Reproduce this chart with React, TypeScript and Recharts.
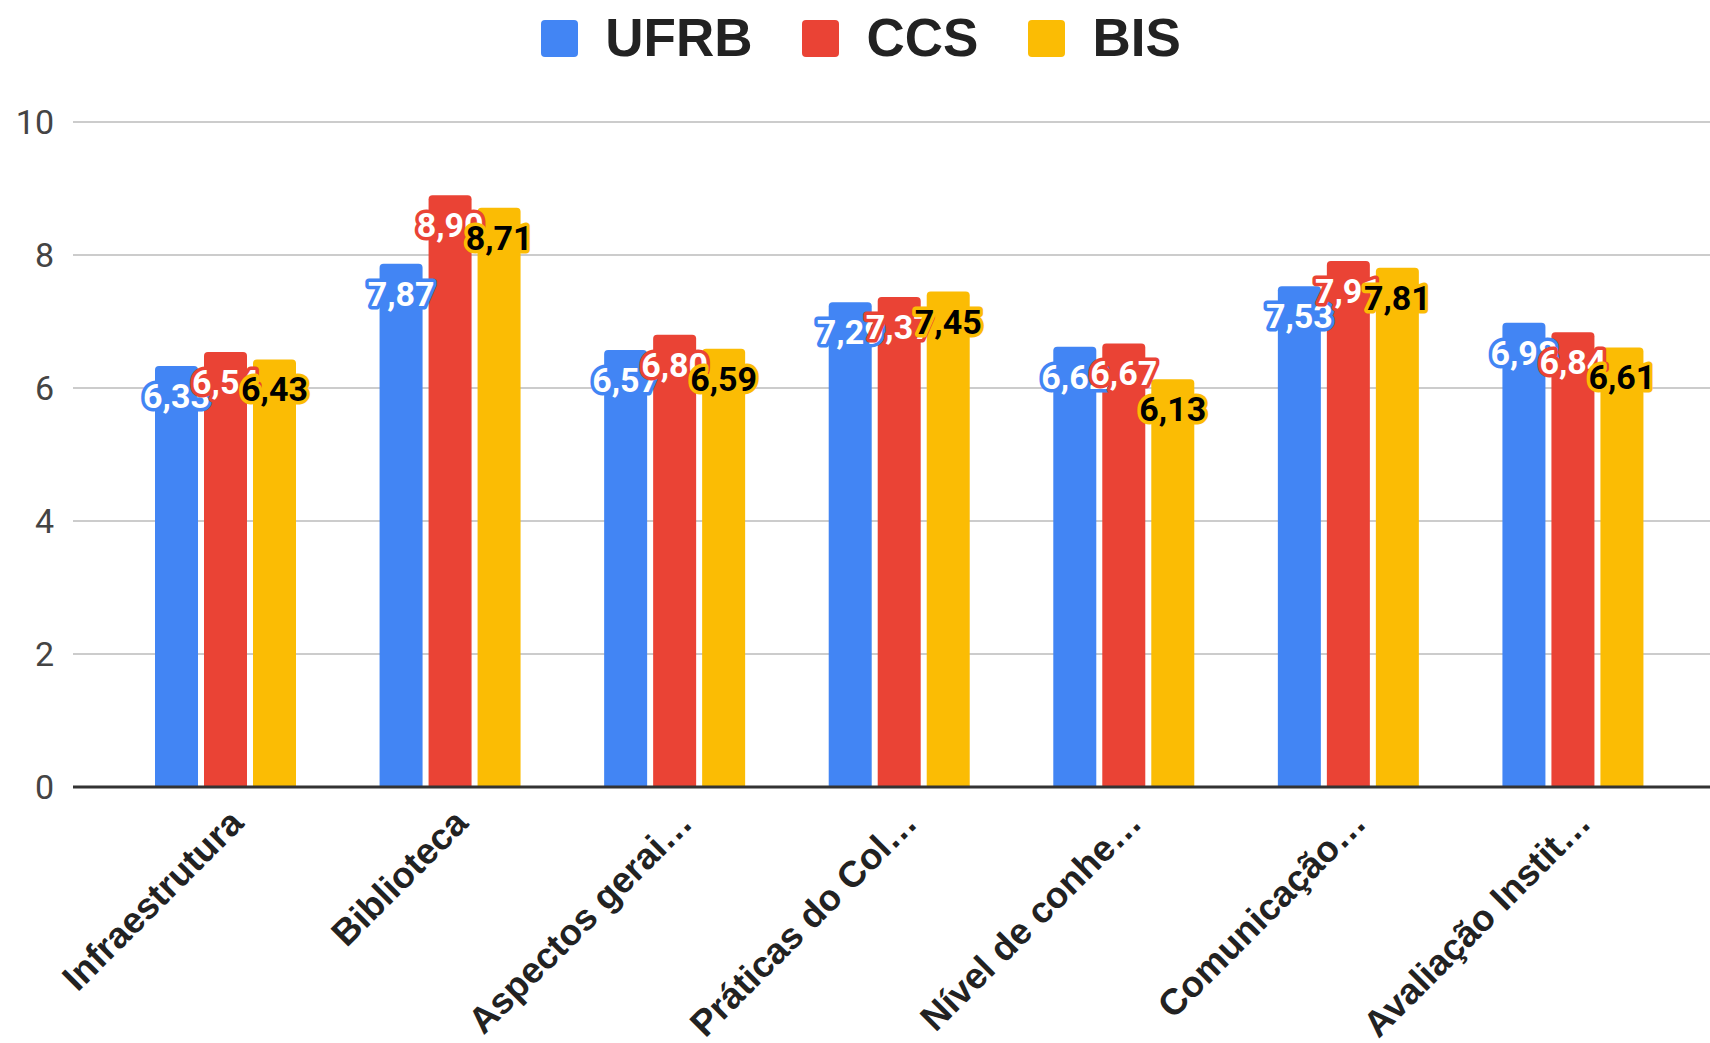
import React from 'react';
import { BarChart, Bar, XAxis, YAxis, CartesianGrid, LabelList } from 'recharts';

const categories = [
  'Infraestrutura',
  'Biblioteca',
  'Aspectos gerai…',
  'Práticas do Col…',
  'Nível de conhe…',
  'Comunicação…',
  'Avaliação Instit…',
];
const ufrb = [6.33, 7.87, 6.57, 7.29, 6.62, 7.53, 6.98];
const ccs = [6.54, 8.9, 6.8, 7.37, 6.67, 7.91, 6.84];
const bis = [6.43, 8.71, 6.59, 7.45, 6.13, 7.81, 6.61];
const yTicks = [0, 2, 4, 6, 8, 10];

const series = [
  { key: 'UFRB', color: '#4285F4', text: '#ffffff' },
  { key: 'CCS', color: '#EA4335', text: '#ffffff' },
  { key: 'BIS', color: '#FBBC04', text: '#000000' },
];

const data = categories.map((name, i) => ({
  name,
  UFRB: ufrb[i],
  CCS: ccs[i],
  BIS: bis[i],
}));

const FONT = 'Roboto, "Noto Sans", sans-serif';
const ARIAL = '"Liberation Sans", Arial, sans-serif';

const fmt = (v: number) => v.toFixed(2).replace('.', ',');

function makeLabel(color: string, textColor: string) {
  return (props: any) => {
    const { x, y, width, value } = props;
    const cx = Number(x) + Number(width) / 2;
    return (
      <text
        x={cx}
        y={Number(y) + 42}
        textAnchor="middle"
        fontFamily={FONT}
        fontWeight={700}
        fontSize={34}
        fill={textColor}
        stroke={color}
        strokeWidth={7}
        strokeLinejoin="round"
        paintOrder="stroke"
      >
        {fmt(Number(value))}
      </text>
    );
  };
}

const XTick = (props: any) => {
  const { x, y, payload } = props;
  const ax = x + 20;
  const ay = y + 30;
  return (
    <text
      x={ax}
      y={ay}
      transform={`rotate(-45, ${ax}, ${ay})`}
      textAnchor="end"
      fontFamily={ARIAL}
      fontWeight={700}
      fontSize={36.5}
      fill="#222222"
    >
      {payload.value}
    </text>
  );
};

const YTick = (props: any) => {
  const { y, payload } = props;
  return (
    <text
      x={54}
      y={y}
      dy={12}
      textAnchor="end"
      fontFamily={FONT}
      fontSize={34}
      fill="#444444"
    >
      {payload.value}
    </text>
  );
};

export default function App() {
  return (
    <div style={{ position: 'fixed', left: 0, top: 0, width: 1710, height: 1043, background: '#fff' }}>
      <div
        style={{
          position: 'absolute',
          top: 6,
          left: 6,
          width: 1710,
          display: 'flex',
          justifyContent: 'center',
          alignItems: 'center',
          fontFamily: ARIAL,
          fontWeight: 700,
          fontSize: 53,
          color: '#222222',
          lineHeight: '64px',
        }}
      >
        {series.map((s, i) => (
          <div key={s.key} style={{ display: 'flex', alignItems: 'center', marginLeft: i === 0 ? 0 : 50 }}>
            <div style={{ width: 37, height: 37, borderRadius: 4, background: s.color, marginRight: 27 }} />
            <span>{s.key}</span>
          </div>
        ))}
      </div>
      <BarChart
        width={1710}
        height={1043}
        data={data}
        margin={{ top: 122, right: 0, bottom: 0, left: 0 }}
        barGap={6}
        barSize={43}
      >
        <CartesianGrid horizontal vertical={false} stroke="#cccccc" strokeWidth={2} />
        <YAxis
          width={73}
          domain={[0, 10]}
          ticks={yTicks}
          axisLine={false}
          tickLine={false}
          tick={<YTick />}
          interval={0}
        />
        <XAxis
          dataKey="name"
          height={256}
          padding={{ left: 40, right: 25 }}
          axisLine={{ stroke: '#333333', strokeWidth: 3 }}
          tickLine={false}
          tick={<XTick />}
          interval={0}
        />
        {series.map((s) => (
          <Bar
            key={s.key}
            dataKey={s.key}
            fill={s.color}
            radius={[4, 4, 0, 0]}
            isAnimationActive={false}
          >
            <LabelList dataKey={s.key} content={makeLabel(s.color, s.text)} />
          </Bar>
        ))}
      </BarChart>
    </div>
  );
}
